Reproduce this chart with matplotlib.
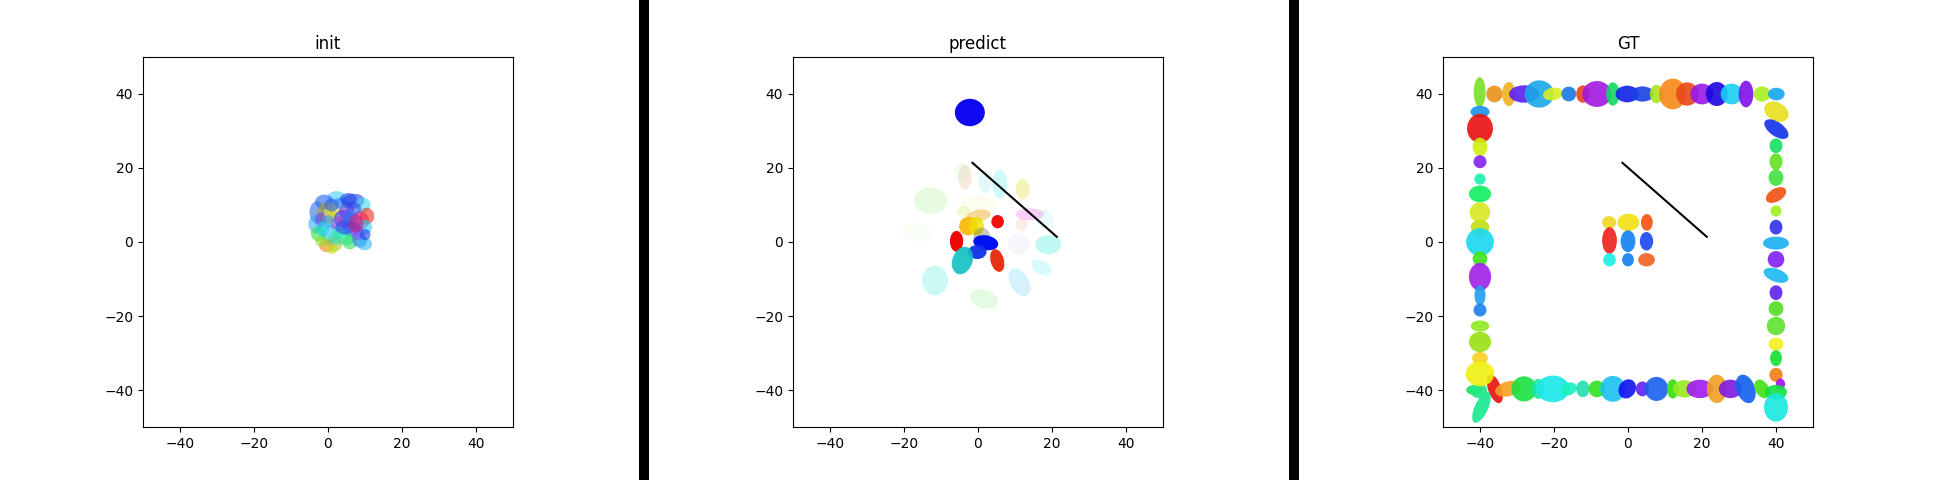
import matplotlib
matplotlib.use("Agg")
import matplotlib.pyplot as plt
from matplotlib.patches import Ellipse, Rectangle

# ---- init: x, y, width, height, angle, color ----
init_x = [2.3, -1.0, 6.8, 9.5, -3.0, -3.3, -0.4, 1.4, 4.1, 5.0, 8.6, 10.5, 9.9, 6.4, -2.6, 0.5,
          4.1, 5.9, -0.4, -1.7, 1.8, 8.6, 9.9, 2.8, 7.0, 3.5, -2.0, 8.0, 3.0, 10.0, 0.0, 6.0, 1.0,
          4.5, 1.0, 7.5, -1.5, 5.5, 2.0]
init_y = [12.0, 10.8, 11.0, 10.0, 8.0, 4.8, 7.8, 8.6, 6.2, 8.5, 5.8, 7.0, 4.0, 3.5, 2.2, 2.2,
          1.3, 0.0, -1.0, 0.2, -0.6, 0.5, -0.5, 4.9, 9.0, 10.5, 6.0, 2.5, 2.5, 2.0, 5.5, 6.5, -2.0,
          4.0, 10.0, 5.0, 3.5, 11.5, 1.0]
init_w = [5, 5, 6, 4, 4, 4, 5, 4, 5, 4, 5, 4, 4, 5, 4, 5,
          6, 4, 4, 3.5, 4, 4, 4, 4, 4, 4, 3, 3.5, 3.5, 3, 3.5, 3.5, 3,
          5, 4, 4, 3.5, 4.5, 4]
init_h = [3.5, 4, 4, 4, 6, 5, 6, 4, 5, 5, 5, 4.5, 4, 4, 4, 5,
          4, 4, 3.5, 3, 4, 4, 3.5, 4, 3.5, 3, 4, 4, 3.5, 3, 3.5, 3.5, 2.5,
          4, 3.5, 5, 4, 3.5, 3.5]
init_ang = [0, 0, 10, 0, 0, 0, 0, 0, 0, 0, 0, 0, 0, 0, 0, 0,
            -20, 0, 0, 0, 0, 0, 0, 0, 0, 0, 0, 0, 0, 0, 0, 0, 0,
            0, 0, 0, 0, 0, 0]
init_col = ['#40d0f8', '#2060f0', '#2040f0', '#40d8f0', '#3070f0', '#30b0f0', '#a8a020', '#d0e020',
            '#2030f0', '#7030e0', '#e010a0', '#f03020', '#20d0f0', '#5030f0', '#30e040', '#20c0f0',
            '#20e8a0', '#30e060', '#f08020', '#90e020', '#a0c030', '#2080f0', '#30b8f0', '#b040c0',
            '#3050e8', '#3080f0', '#8040f0', '#8050f0', '#30f0d0', '#2040f0', '#30a0f0', '#2080f0',
            '#d0e020', '#2050f0', '#3060f0', '#c02080', '#20d8e0', '#2040e8', '#40e0b0']

# ---- predict: x, y, width, height, angle, color, alpha ----
pred_x = [-2.2, -4.4, -3.5, 1.9, 5.9, 12.1, -12.8, 0.1, 14.0, 18.1, 11.8, 11.0, -16.6, -4.0, 0.1,
          5.3, -2.6, -0.4, 1.0, -5.8, 2.1, -0.2, -4.2, 5.2, 19.0, 17.2, 11.2, -11.6, 1.6]
pred_y = [35.0, 18.8, 17.5, 16.2, 15.7, 14.3, 11.2, 10.3, 7.5, 6.2, 4.7, -0.5, 2.6, 8.3, 7.1,
          5.5, 4.3, 4.3, 1.6, 0.2, -0.2, -2.7, -5.0, -5.0, -0.7, -6.9, -10.9, -10.4, -15.4]
pred_w = [8.1, 4.0, 3.6, 3.6, 4.0, 3.8, 9.0, 9.0, 7.7, 4.5, 3.4, 6.0, 8.1, 3.6, 6.8,
          3.4, 5.0, 4.0, 4.5, 3.6, 6.8, 5.0, 5.4, 3.6, 7.0, 6.0, 5.0, 7.0, 8.0]
pred_h = [7.4, 5.4, 6.8, 6.3, 7.7, 5.6, 7.2, 4.5, 3.2, 5.0, 3.4, 6.0, 5.0, 2.7, 3.2,
          3.6, 5.0, 5.0, 4.5, 5.6, 4.0, 3.8, 7.7, 6.3, 5.2, 3.6, 8.1, 8.0, 5.0]
pred_ang = [0, 0, 0, 0, 0, 0, 0, 0, 0, 0, 0, 0, -10, 0, 10,
            0, 0, 0, 0, 0, -10, 0, -20, 15, 0, -30, 30, 0, -15]
pred_col = ['#1008f0', '#90e890', '#e0a070', '#40e0f0', '#30f0f0', '#e0e020', '#60e840', '#e8e880',
            '#f060f0', '#60e0e0', '#f08060', '#c0b0e0', '#b0e890', '#b0e820', '#f0a820',
            '#f01010', '#f8b800', '#f0e000', '#405040', '#f00808', '#0010f0', '#1030e8', '#10c0c0',
            '#e82808', '#30e8d8', '#40e8e8', '#40c0f0', '#30e8d0', '#70e860']
pred_alpha = [1.0, 0.12, 0.2, 0.15, 0.25, 0.3, 0.15, 0.12, 0.3, 0.12, 0.15, 0.1, 0.08, 0.2, 0.45,
              1.0, 0.9, 0.8, 0.3, 1.0, 1.0, 0.95, 0.9, 0.95, 0.3, 0.2, 0.22, 0.25, 0.18]

# ---- GT: x, y, width, height, angle, color ----
gt_x = [-36.0, -41.5, -40.3, -39.6, -32.4, -28.1, -24.3, -20.3, -16.0, -12.2, -8.4, -4.1, -0.2,
        3.9, 7.7, 12.1, 15.3, 19.4, 24.0, 27.7, 31.8, 36.2,
        -40.1, -36.1, -32.2, -28.1, -24.0, -20.3, -16.0, -12.2, -8.4, -4.1, -0.2,
        3.9, 7.7, 12.1, 16.0, 20.0, 24.0, 28.0, 31.9, 36.2, 40.1,
        -40.0, -40.0, -40.0, -40.0, -40.0, -40.0, -40.0, -40.0, -40.0, -40.0, -40.0, -40.0,
        -40.0, -40.0, -40.0, -40.0, -40.0,
        40.1, 40.1, 40.0, 40.0, 40.0, 40.0, 40.0, 40.0, 40.0, 40.0, 40.0, 40.0, 40.0, 40.0,
        40.0, 40.0, 40.0, 41.2, 40.0, 40.0,
        -5.1, 0.1, 5.1, -5.0, 0.0, 5.0, -5.0, 0.0, 5.0]
gt_y = [-39.7, -40.0, -40.2, -44.7, -39.7, -39.7, -39.7, -39.7, -39.7, -39.7, -39.7, -39.7, -39.7,
        -39.7, -39.7, -39.7, -39.7, -39.7, -39.7, -39.7, -39.7, -39.7,
        40.5, 40.0, 40.0, 40.0, 40.0, 40.0, 40.0, 40.0, 40.0, 40.0, 40.0,
        40.0, 40.0, 40.0, 40.0, 40.0, 40.0, 40.0, 40.0, 40.0, 40.0,
        35.2, 30.7, 25.7, 21.7, 17.0, 13.0, 8.0, 4.0, 0.0, -4.5, -9.4, -14.4,
        -18.4, -22.7, -27.0, -31.4, -35.6,
        35.2, 30.5, 26.0, 21.7, 17.4, 12.7, 8.4, 4.0, -0.3, -4.7, -9.0, -13.7, -18.0, -22.7,
        -27.6, -31.4, -35.9, -38.4, -40.6, -44.7,
        5.3, 5.3, 5.3, 0.4, 0.2, 0.2, -4.8, -4.8, -4.8]
gt_w = [3.6, 4.5, 4.5, 3.6, 7.2, 6.8, 3.6, 9.0, 4.5, 3.6, 4.5, 6.8, 4.5,
        3.6, 6.3, 3.2, 6.3, 7.2, 5.4, 6.3, 5.0, 3.6,
        3.2, 4.5, 3.6, 8.1, 7.9, 5.4, 4.0, 3.6, 7.9, 3.6, 6.3,
        6.3, 3.6, 7.4, 6.1, 6.3, 5.9, 5.9, 4.0, 4.5, 4.5,
        5.2, 7.0, 4.0, 3.5, 3.0, 6.0, 5.5, 5.0, 7.5, 4.0, 6.0, 3.0,
        3.5, 5.0, 6.0, 4.3, 7.7,
        7.0, 7.5, 3.5, 3.5, 4.0, 6.0, 3.0, 3.5, 7.0, 4.5, 7.0, 3.5, 4.0, 5.0,
        4.0, 3.2, 3.6, 2.5, 5.9, 6.5,
        3.8, 5.9, 3.2, 4.0, 4.0, 3.6, 3.4, 3.2, 4.5]
gt_h = [8.1, 2.7, 4.0, 9.0, 4.0, 6.8, 5.4, 7.2, 3.4, 4.5, 4.5, 7.0, 5.4,
        4.0, 6.5, 5.2, 4.7, 5.0, 7.7, 5.0, 8.0, 5.4,
        8.1, 4.5, 6.5, 4.7, 7.4, 3.4, 4.0, 4.7, 7.0, 6.3, 4.5,
        4.1, 5.0, 8.3, 6.3, 5.6, 6.5, 5.6, 7.2, 4.1, 3.4,
        3.2, 7.9, 5.0, 3.5, 3.0, 4.5, 5.5, 4.0, 7.5, 4.0, 7.5, 5.5,
        3.5, 3.0, 5.5, 3.4, 6.8,
        5.0, 3.8, 4.0, 4.5, 4.5, 3.5, 3.0, 4.0, 3.5, 4.5, 3.5, 4.0, 4.0, 5.0,
        3.5, 4.3, 3.8, 3.0, 4.0, 7.7,
        3.4, 4.7, 4.5, 7.2, 5.9, 5.0, 3.6, 3.6, 3.6]
gt_ang = [20, 0, 0, -25, 15, 0, 0, 0, 20, 0, 0, 0, -30,
          0, 0, 0, 0, 0, 0, 0, 20, 30,
          0, 0, 0, 0, 0, 10, 0, 0, 0, 0, 0,
          0, 0, 0, 0, 0, 0, 0, 0, 0, 0,
          0, 0, 0, 0, 0, 0, 0, 0, 0, 0, 0, 0,
          0, 0, 0, 0, 0,
          -30, -35, 0, 0, 0, 30, 0, 0, 0, 0, -20, 0, 0, 0,
          0, 0, 0, 0, 0, 0,
          0, 0, 0, 0, 0, 0, 0, 0, 0]
gt_col = ['#e81010', '#18e060', '#20e888', '#18e890', '#f8a020', '#18e040', '#18e8a0', '#18e8e8',
          '#18f0c0', '#20e0b0', '#30e020', '#18c0f0', '#1010f0', '#6020f0', '#1860f0', '#30e010',
          '#98e820', '#a018f0', '#f0a020', '#8018e0', '#1060f0', '#40e010',
          '#77e022', '#e8901a', '#f0b020', '#5a20f0', '#18a8e8', '#d8f020', '#1878e0', '#e84020',
          '#a018e0', '#10d860', '#1020e8', '#1840e0', '#a8e820', '#f88818', '#e84818', '#9818e8',
          '#1808e0', '#18d0f0', '#8010e8', '#a8f020', '#10a8f0',
          '#1890f0', '#e81010', '#d0f010', '#8020f0', '#18f0b0', '#10f060', '#d8e820', '#c0e010',
          '#18d8f0', '#40e020', '#a020e8', '#20a0f0', '#1880f0', '#90e820', '#98e010', '#f8d020',
          '#f0f010',
          '#e8e020', '#1030e8', '#10e060', '#60e020', '#40e040', '#f05010', '#a0f020', '#3030f0',
          '#18b0f0', '#8020f0', '#18b8f0', '#6020f0', '#50e020', '#60e030', '#f0f020', '#10e030',
          '#f08010', '#a010f0', '#10e040', '#18e8e0',
          '#f0d820', '#f0e010', '#f85010', '#f02018', '#1080f0', '#1848f0', '#18f0e0', '#1080f0',
          '#f06020']

# black line shown on predict and GT
line_x = [-1.5, 21.3]
line_y = [21.4, 1.4]

ticks = [-40, -20, 0, 20, 40]

fig = plt.figure(figsize=(19.4, 4.8), dpi=100)
W, H = 1940.0, 480.0
lefts = [143, 793, 1443]
axes = [fig.add_axes([l / W, 53 / H, 370 / W, 370 / H]) for l in lefts]

# separators between the panels
for bx in [639.5, 1289.5]:
    fig.patches.append(Rectangle((bx / W, 0), 10 / W, 1, transform=fig.transFigure,
                                 facecolor='black', edgecolor='none'))

ax = axes[0]
for i in range(len(init_x)):
    ax.add_patch(Ellipse((init_x[i], init_y[i]), init_w[i], init_h[i], angle=init_ang[i],
                         facecolor=init_col[i], edgecolor='none', alpha=0.6))
ax.set_title("init")

ax = axes[1]
for i in range(len(pred_x)):
    ax.add_patch(Ellipse((pred_x[i], pred_y[i]), pred_w[i], pred_h[i], angle=pred_ang[i],
                         facecolor=pred_col[i], edgecolor='none', alpha=pred_alpha[i]))
ax.plot(line_x, line_y, color='black', lw=1.5)
ax.set_title("predict")

ax = axes[2]
for i in range(len(gt_x)):
    ax.add_patch(Ellipse((gt_x[i], gt_y[i]), gt_w[i], gt_h[i], angle=gt_ang[i],
                         facecolor=gt_col[i], edgecolor='none', alpha=0.9))
ax.plot(line_x, line_y, color='black', lw=1.5)
ax.set_title("GT")

for ax in axes:
    ax.set_xlim(-50, 50)
    ax.set_ylim(-50, 50)
    ax.set_xticks(ticks)
    ax.set_yticks(ticks)

fig.savefig("out.png", dpi=100)
